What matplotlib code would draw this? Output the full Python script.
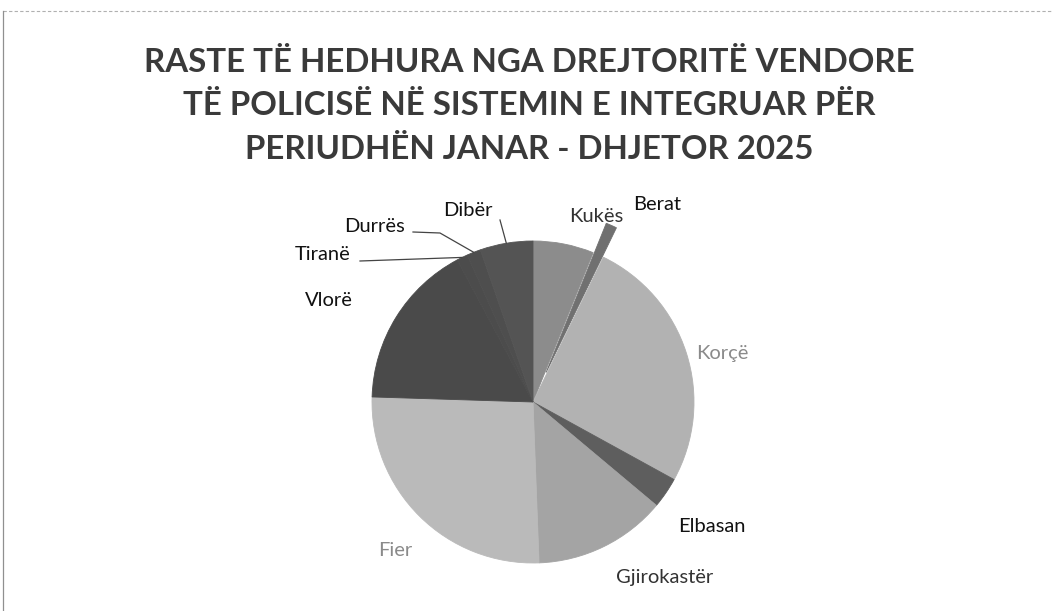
import matplotlib.pyplot as plt
import numpy as np
from matplotlib.lines import Line2D

# share of cases per directorate (%), clockwise from 12 o'clock
regions = ['Kukës', 'Berat', 'Korçë', 'Elbasan', 'Gjirokastër',
           'Fier', 'Vlorë', 'Tiranë', 'Durrës', 'Dibër']
shares = [6.1, 1.1, 25.8, 3.1, 13.3, 26.1, 16.7, 1.1, 1.4, 5.3]

shades = ['#8c8c8c', '#707070', '#b2b2b2', '#5e5e5e', '#a4a4a4',
          '#bababa', '#4a4a4a', '#4c4c4c', '#4e4e4e', '#545454']
explode = [0, 0.2, 0, 0, 0, 0, 0, 0, 0, 0]

title_lines = ['RASTE TË HEDHURA NGA DREJTORITË VENDORE',
               'TË POLICISË NË SISTEMIN E INTEGRUAR PËR',
               'PERIUDHËN JANAR - DHJETOR 2025']

W, H = 1053, 611
cx, cy, R = 533, 402, 161   # pie centre and radius in pixels

fig = plt.figure(figsize=(W / 100, H / 100), dpi=100)
ax = fig.add_axes([0, 0, 1, 1])

wedges, _ = ax.pie(shares, colors=shades, startangle=90, counterclock=False,
                   explode=explode, radius=1, wedgeprops=dict(linewidth=0.6))
for w in wedges:
    w.set_edgecolor(w.get_facecolor())
ax.set_xlim(-cx / R, (W - cx) / R)
ax.set_ylim(-(H - cy) / R, cy / R)
ax.set_aspect('auto')
ax.axis('off')

def px(x, y):
    return (x - cx) / R, (cy - y) / R

# label placement (pixel positions of label centres)
label_pos = {
    'Kukës': (596, 216), 'Berat': (657, 205), 'Korçë': (722, 353),
    'Elbasan': (712, 527), 'Gjirokastër': (665, 577), 'Fier': (395, 551),
    'Vlorë': (329, 300), 'Tiranë': (323, 254), 'Durrës': (375, 226),
    'Dibër': (468, 211),
}
label_col = {'Korçë': '#8a8a8a', 'Fier': '#8a8a8a', 'Kukës': '#333333',
             'Gjirokastër': '#333333'}
leaders = {  # where the leader line leaves the label (pixels)
    'Tiranë': [(360, 261)],
    'Durrës': [(413, 232), (440, 233)],
    'Dibër': [(500, 220)],
}

for w, name in zip(wedges, regions):
    x, y = px(*label_pos[name])
    ax.text(x, y, name, ha='center', va='center', fontsize=14.5,
            family='Lato', color=label_col.get(name, '#111111'))
    if name in leaders:
        mid = np.deg2rad((w.theta1 + w.theta2) / 2)
        end = (np.cos(mid), np.sin(mid))
        pts = [px(*p) for p in leaders[name]] + [end]
        xs, ys = zip(*pts)
        ax.add_line(Line2D(xs, ys, color='#444444', lw=0.9))

# title, one line at a time (baselines in pixels)
for line, base in zip(title_lines, [72, 115, 159]):
    fig.text(0.503, 1 - base / H, line, ha='center', va='baseline',
             fontsize=23.8, fontweight='bold', family='Lato', color='#3a3a3a')

# faint frame of the scanned page
fig.add_artist(Line2D([3 / W, 1], [1 - 11 / H, 1 - 11 / H], color='#b0b0b0',
                      lw=0.8, ls=(0, (3, 2))))
fig.add_artist(Line2D([3 / W, 3 / W], [0, 1 - 11 / H], color='#909090', lw=0.9))

fig.savefig('out.png', dpi=100, facecolor='white')
